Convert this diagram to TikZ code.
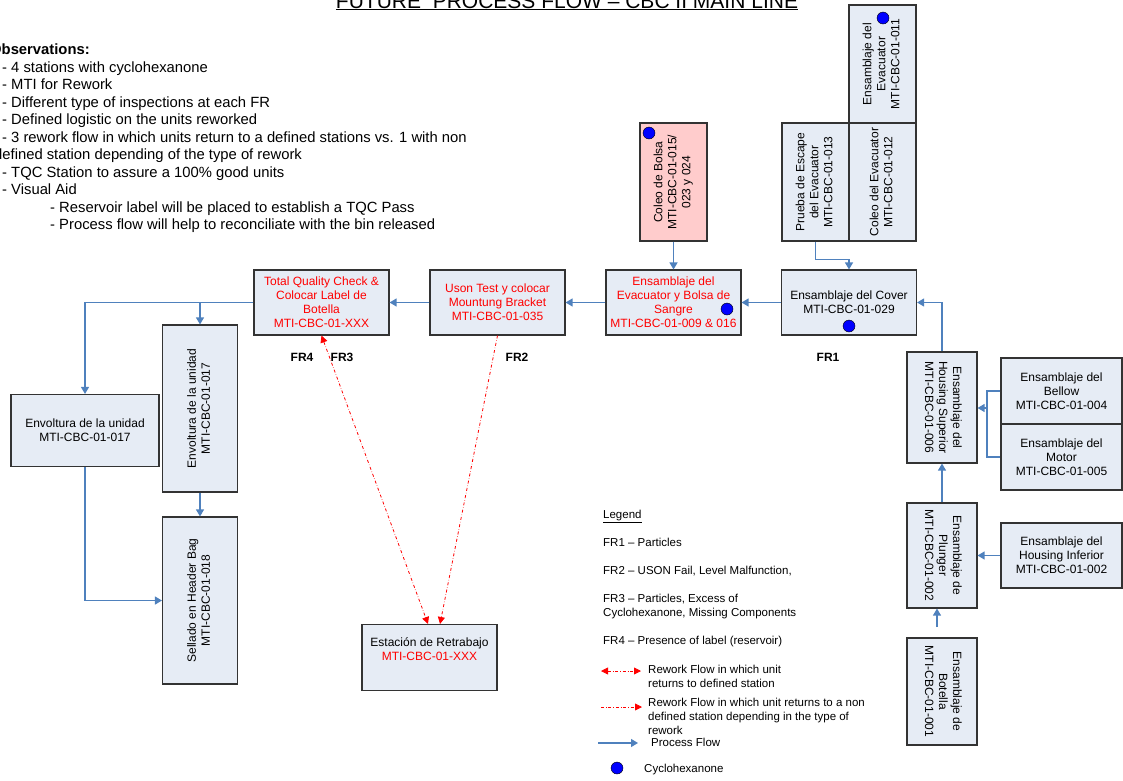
\documentclass[tikz,border=0pt]{standalone}
\usepackage{fontspec}
\setmainfont{Liberation Sans}
\usepackage{tikz}
\usetikzlibrary{arrows.meta}

\definecolor{boxfill}{HTML}{E6ECF5}
\definecolor{boxline}{HTML}{333333}
\definecolor{bolsapink}{HTML}{FFCCCC}
\definecolor{flowblue}{HTML}{4F81BD}

\newcommand{\uptext}[1]{\rotatebox{90}{\begin{tabular}{@{}c@{}}#1\end{tabular}}}
\newcommand{\downtext}[1]{\rotatebox{-90}{\begin{tabular}{@{}c@{}}#1\end{tabular}}}
\newcommand{\leftcol}[1]{\begin{tabular}[t]{@{}l@{}}#1\end{tabular}}

\begin{document}
\begin{tikzpicture}[x = 1pt, y = -1pt,
                        box/.style = {draw = boxline, fill = boxfill, line width = 1.1, inner sep = 2,
                                      align = center, font = \fontsize{12}{14}\selectfont},
                        wide/.style = {box, minimum width = 135, minimum height = 65},
                        tall/.style = {box, minimum width = 67, minimum height = 118},
                        side/.style = {box, minimum width = 121, minimum height = 66},
                        dot/.style = {circle, draw = black, fill = blue, minimum size = 12, inner sep = 0},
                        fr/.style = {font = \bfseries\fontsize{12}{14}\selectfont},
                        legtext/.style = {anchor = base west, inner sep = 0, font = \fontsize{11.5}{14}\selectfont},
                        flow/.style = {draw = flowblue, line width = 1.2, -{Triangle[length = 7pt, width = 8pt]}},
                        link/.style = {draw = flowblue, line width = 1.2},
                        rework/.style = {draw = red, dash dot, line width = 0.8}]
      \useasboundingbox (0, 0) rectangle (1123, 780);

      % title and notes
      \node [anchor = base, inner sep = 0, font = \fontsize{21}{24}\selectfont] (title) at (567, 8)
            {\underline{FUTURE\ \ PROCESS FLOW – CBC II MAIN LINE}};
      \node [anchor = base west, inner sep = 0, font = \fontsize{14.8}{17.5}\selectfont] (obs) at (-8, 54.5)
            {\leftcol{\hspace*{-2pt}\textbf{Observations:}\\
                      \hspace*{10pt}- 4 stations with cyclohexanone\\
                      \hspace*{10pt}- MTI for Rework\\
                      \hspace*{10pt}- Different type of inspections at each FR\\
                      \hspace*{10pt}- Defined logistic on the units reworked\\
                      \hspace*{10pt}- 3 rework flow in which units return to a defined stations vs. 1 with non\\
                      \hspace*{2pt}defined station depending of the type of rework\\
                      \hspace*{10pt}- TQC Station to assure a 100\% good units\\
                      \hspace*{10pt}- Visual Aid\\
                      \hspace*{58pt}- Reservoir label will be placed to establish a TQC Pass\\
                      \hspace*{58pt}- Process flow will help to reconciliate with the bin released}};

      % evacuator feeders
      \node [tall] (evac) at (882.5, 64) {\uptext{Ensamblaje del\\Evacuator\\MTI-CBC-01-011}};
      \node [tall] (prueba) at (815.5, 182) {\uptext{Prueba de Escape\\del Evacuator\\MTI-CBC-01-013}};
      \node [tall] (coleoev) at (882.5, 182) {\uptext{Coleo del Evacuator\\MTI-CBC-01-012}};
      \node [tall, fill = bolsapink] (bolsa) at (673.5, 182) {\uptext{Coleo de Bolsa\\MTI-CBC-01-015/\\023 y 024}};
      \node [dot] (d1) at (883, 18) {};
      \node [dot] (d2) at (649, 133) {};

      % main line
      \node [wide] (cover) at (849, 302.5) {Ensamblaje del Cover\\MTI-CBC-01-029};
      \node [wide, text = red] (evacbolsa) at (673.5, 302.5)
            {Ensamblaje del\\Evacuator y Bolsa de\\Sangre\\MTI-CBC-01-009 \& 016};
      \node [wide, text = red] (uson) at (497.5, 302.5) {Uson Test y colocar\\Mountung Bracket\\MTI-CBC-01-035};
      \node [wide, text = red] (tqc) at (321.5, 302.5)
            {Total Quality Check \&\\Colocar Label de\\Botella\\MTI-CBC-01-XXX};
      \node [dot] (d3) at (849, 326) {};
      \node [dot] (d4) at (727, 309) {};

      \node [fr] (fr4) at (302, 357) {FR4};
      \node [fr] (fr3) at (342, 357) {FR3};
      \node [fr] (fr2) at (517, 357) {FR2};
      \node [fr] (fr1) at (828, 357) {FR1};

      % packing
      \node [box, minimum width = 148, minimum height = 72] (envh) at (85, 430.5)
            {Envoltura de la unidad\\MTI-CBC-01-017};
      \node [box, minimum width = 75, minimum height = 167] (envv) at (200, 408.5)
            {\uptext{Envoltura de la unidad\\MTI-CBC-01-017}};
      \node [box, minimum width = 75, minimum height = 167] (sellado) at (200, 600.5)
            {\uptext{Sellado en Header Bag\\MTI-CBC-01-018}};
      \node [wide, minimum height = 66] (retrabajo) at (429.5, 657.5)
            {Estación de Retrabajo\\\textcolor{red}{MTI-CBC-01-XXX}\rule[-16pt]{0pt}{0pt}};

      % housing column
      \node [box, minimum width = 70, minimum height = 111] (housup) at (942, 407.5)
            {\downtext{Ensamblaje del\\Housing Superior\\MTI-CBC-01-006}};
      \node [box, minimum width = 70, minimum height = 105] (plunger) at (942, 555.5)
            {\downtext{Ensamblaje de\\Plunger\\MTI-CBC-01-002}};
      \node [box, minimum width = 70, minimum height = 107] (botella) at (942, 691.5)
            {\downtext{Ensamblaje de\\Botella\\MTI-CBC-01-001}};
      \node [side] (bellow) at (1061.5, 391) {Ensamblaje del\\Bellow\\MTI-CBC-01-004};
      \node [side] (motor) at (1061.5, 457) {Ensamblaje del\\Motor\\MTI-CBC-01-005};
      \node [side, minimum height = 65] (housinf) at (1061.5, 555.5)
            {Ensamblaje del\\Housing Inferior\\MTI-CBC-01-002};

      % process flow
      \draw [flow] (bolsa) -- (evacbolsa);
      \draw [flow] (prueba.south) -- ++(0, 18) -| (cover.north);
      \draw [flow] (cover) -- (evacbolsa);
      \draw [flow] (evacbolsa) -- (uson);
      \draw [flow] (uson) -- (tqc);
      \draw [flow] (tqc.west) -| (envh.north);
      \draw [flow] (envv.north |- tqc.west) -- (envv.north);
      \draw [flow] (envv) -- (sellado);
      \draw [flow] (envh.south) |- (sellado.west);
      \draw [flow] (housup.north) |- (cover.east);
      \coordinate (bm) at (987, 408);
      \draw [link] (bellow.west) -- (bellow.west -| bm) -- (motor.west -| bm) -- (motor.west);
      \draw [flow] (bm) -- (housup.east |- bm);
      \draw [flow] (plunger) -- (housup);
      \draw [flow] (housinf) -- (plunger);
      \coordinate (bt) at (937, 627);
      \draw [flow] (bt) -- (bt |- plunger.south);

      % rework flow
      \draw [rework, {Triangle[length = 7pt, width = 7pt]}-{Triangle[length = 7pt, width = 7pt]}]
            (tqc.south) -- ([xshift = -1.5]retrabajo.north);
      \draw [rework, -{Triangle[length = 7pt, width = 7pt]}] (uson.south) -- ([xshift = 10.5]retrabajo.north);

      % legend
      \node [legtext] (leg) at (603, 518) {\underline{Legend}};
      \node [legtext] (lfr1) at (603, 546) {FR1 – Particles};
      \node [legtext] (lfr2) at (603, 574) {FR2 – USON Fail, Level Malfunction,};
      \node [legtext] (lfr3) at (603, 602) {\leftcol{FR3 – Particles, Excess of\\Cyclohexanone, Missing Components}};
      \node [legtext] (lfr4) at (603, 644) {FR4 – Presence of label (reservoir)};
      \coordinate (la1) at (601, 671);
      \coordinate (lb1) at (641, 671);
      \draw [rework, {Triangle[length = 7pt, width = 7pt]}-{Triangle[length = 7pt, width = 7pt]}] (la1) -- (lb1);
      \node [legtext] (lr1) at (648, 673) {\leftcol{Rework Flow in which unit\\returns to defined station}};
      \coordinate (la2) at (601, 707);
      \coordinate (lb2) at (642, 707);
      \draw [rework, -{Triangle[length = 7pt, width = 7pt]}] (la2) -- (lb2);
      \node [legtext] (lr2) at (648, 706)
            {\leftcol{Rework Flow in which unit returns to a non\\defined station depending in the type of\\rework}};
      \coordinate (la3) at (598, 743);
      \coordinate (lb3) at (638, 743);
      \draw [flow] (la3) -- (lb3);
      \node [legtext] (lpf) at (651, 746) {Process Flow};
      \node [dot] (ld) at (617, 768) {};
      \node [legtext] (lcy) at (644, 772) {Cyclohexanone};
    \end{tikzpicture}
\end{document}
